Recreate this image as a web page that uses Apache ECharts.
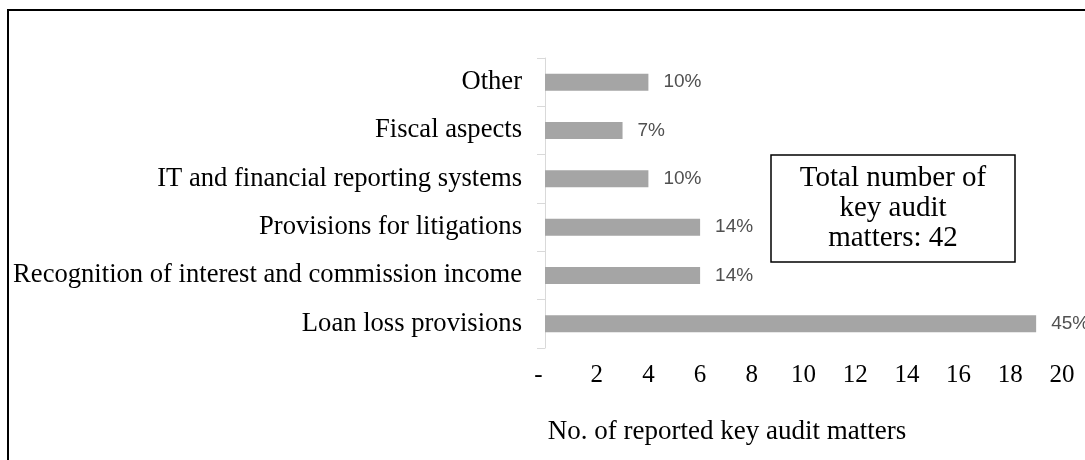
<!DOCTYPE html>
<html>
<head>
<meta charset="utf-8">
<script src="https://cdn.jsdelivr.net/npm/echarts@6/dist/echarts.min.js"></script>
<style>
  html, body { margin: 0; padding: 0; background: #fff; }
  #chart { width: 1085px; height: 460px; }
</style>
</head>
<body>
<div id="chart"></div>
<script>
// Key audit matter topics, listed bottom to top as drawn on the category axis
const categories = [
  'Loan loss provisions',
  'Recognition of interest and commission income',
  'Provisions for litigations',
  'IT and financial reporting systems',
  'Fiscal aspects',
  'Other'
];
// Number of reported key audit matters per topic
const counts = [19, 6, 6, 4, 3, 4];
// Value axis ticks
const axisMin = 0;
const axisMax = 20;
const axisStep = 2;

const total = counts.reduce((a, b) => a + b, 0);
const serif = '"Liberation Serif", "Times New Roman", serif';

const chart = echarts.init(document.getElementById('chart'), null, { renderer: 'canvas' });

chart.setOption({
  animation: false,
  backgroundColor: '#ffffff',
  grid: { left: 545, right: 23, top: 58, bottom: 112, containLabel: false },
  xAxis: {
    type: 'value',
    min: axisMin,
    max: axisMax,
    interval: axisStep,
    axisLine: { show: false },
    axisTick: { show: false },
    splitLine: { show: false },
    axisLabel: {
      margin: 15,
      color: '#000',
      fontFamily: serif,
      fontSize: 25,
      formatter: v => v === 0 ? '{z|-}' : String(v),
      rich: { z: { padding: [0, 13, 0, 0], fontFamily: serif, fontSize: 25, color: '#000' } }
    }
  },
  yAxis: {
    type: 'category',
    data: categories,
    axisLine: { show: true, lineStyle: { color: '#d9d9d9', width: 1 } },
    axisTick: { show: true, length: 8, lineStyle: { color: '#d9d9d9' } },
    axisLabel: { margin: 23, color: '#000', fontFamily: serif, fontSize: 26.6 }
  },
  series: [{
    type: 'bar',
    data: counts,
    barWidth: 17,
    itemStyle: { color: '#a5a5a5' },
    label: {
      show: true,
      position: 'right',
      distance: 15,
      color: '#505050',
      fontFamily: '"Liberation Sans", Arial, sans-serif',
      fontSize: 19,
      formatter: p => Math.round(p.value / total * 100) + '%'
    }
  }],
  graphic: [
    {
      type: 'rect',
      silent: true,
      shape: { x: 8, y: 10, width: 1200, height: 600 },
      style: { fill: 'none', stroke: '#000', lineWidth: 2 }
    },
    {
      type: 'rect',
      silent: true,
      shape: { x: 771, y: 155, width: 244, height: 107 },
      style: { fill: '#fff', stroke: '#000', lineWidth: 1.5 }
    },
    {
      type: 'text',
      silent: true,
      x: 893, y: 208,
      style: {
        text: 'Total number of\nkey audit\nmatters: ' + total,
        fontFamily: serif,
        fontSize: 29,
        lineHeight: 30,
        fill: '#000',
        align: 'center',
        verticalAlign: 'middle'
      }
    },
    {
      type: 'text',
      silent: true,
      x: 727, y: 432,
      style: {
        text: 'No. of reported key audit matters',
        fontFamily: serif,
        fontSize: 27,
        fill: '#000',
        align: 'center',
        verticalAlign: 'middle'
      }
    }
  ]
});
</script>
</body>
</html>
